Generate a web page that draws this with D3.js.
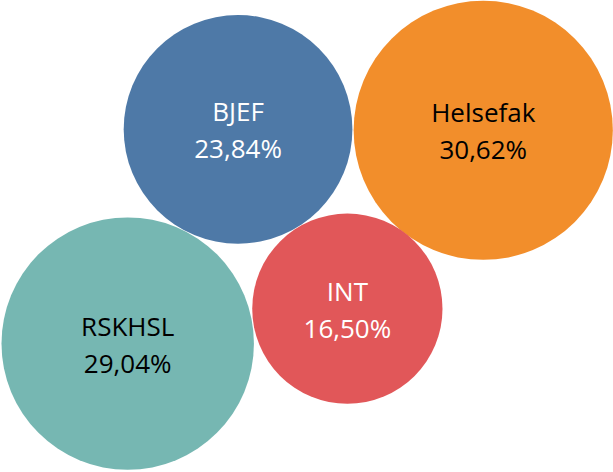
<html>
	<head>
		<meta charset="utf-8">
		<script src="https://d3js.org/d3.v7.min.js"></script>
		<style>
			body { margin: 0; background: #fff; }
			text { font-family: "Open Sans", sans-serif; font-size: 26px; }
		</style>
	</head>

	<body>
	</body>

	<script type="text/javascript">

		// data
		var names = ["BJEF", "Helsefak", "INT", "RSKHSL"]
		var shares = [23.84, 30.62, 16.50, 29.04]
		var xPos = [2.33, 4.73, 3.40, 1.25]
		var yPos = [3.63, 3.62, 1.73, 1.36]
		var labels = ["23,84%", "30,62%", "16,50%", "29,04%"]

		var colors = ["#4e79a7", "#f28e2b", "#e15759", "#76b7b2"]
		var textColors = ["#ffffff", "#000000", "#ffffff", "#000000"]

		var data = names.map(function(n, i) {
			return {name: n, value: shares[i], x: xPos[i], y: yPos[i], label: labels[i]}
		})

		var width = 613,
		height = 472;

		var svg = d3.select("body").append("svg")
			.attr("width", width)
			.attr("height", height)

		var x = d3.scaleLinear()
			.domain([0, 6])
			.range([0, width])

		var y = d3.scaleLinear()
			.domain([0, 5])
			.range([height, 0])

		var r = d3.scaleSqrt()
			.domain([0, d3.max(shares)])
			.range([0, 129.6])

		var bubble = svg.selectAll(".bubble")
			.data(data)
		.enter().append("g")
			.attr("class", "bubble")
			.attr("transform", function(d) { return "translate(" + x(d.x) + "," + y(d.y) + ")"; })

		bubble.append("circle")
			.attr("r", function(d) { return r(d.value); })
			.attr("fill", function(d, i) { return colors[i]; })

		bubble.append("text")
			.attr("text-anchor", "middle")
			.attr("y", -8)
			.attr("fill", function(d, i) { return textColors[i]; })
			.text(function(d) { return d.name; })

		bubble.append("text")
			.attr("text-anchor", "middle")
			.attr("y", 29)
			.attr("fill", function(d, i) { return textColors[i]; })
			.text(function(d) { return d.label; })

	</script>

</html>
